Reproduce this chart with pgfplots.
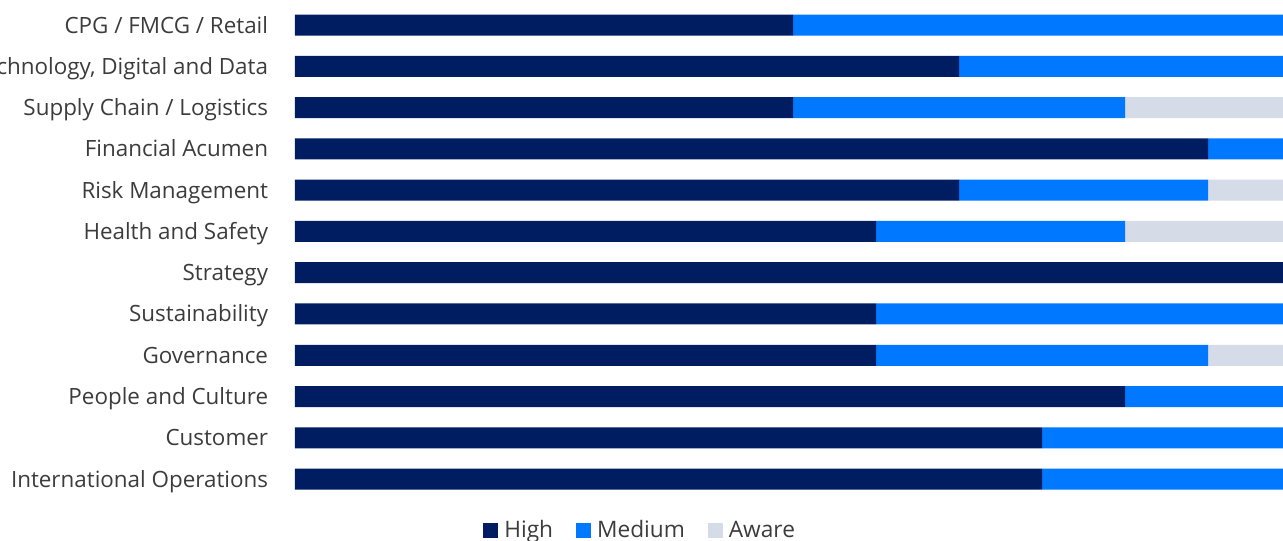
\documentclass[border=0pt]{standalone}
\usepackage{fontspec}
\setmainfont{Open Sans}
\usepackage{pgfplots}
\pgfplotsset{compat=1.18}
\definecolor{high}{HTML}{001D62}
\definecolor{medium}{HTML}{0078FF}
\definecolor{aware}{HTML}{D5DBE7}
\definecolor{txt}{HTML}{3C3C3C}
\begin{document}
\begin{tikzpicture}
\begin{axis}[
  at={(221.25pt,-3.3pt)}, anchor=north west,
  scale only axis, width=747pt, height=371.5pt,
  xbar stacked, bar width=15.75pt,
  xmin=0, xmax=12, ymin=-0.5, ymax=11.5, y dir=reverse,
  axis line style={draw=none}, tick style={draw=none}, major tick length=0pt,
  xtick=\empty,
  ytick={0,...,11},
  yticklabels={CPG / FMCG / Retail, {Technology, Digital and Data}, Supply Chain / Logistics, Financial Acumen, Risk Management, Health and Safety, Strategy, Sustainability, Governance, People and Culture, Customer, International Operations},
  yticklabel style={anchor=east, inner sep=0pt, xshift=-20pt, text height=12pt, text depth=0pt, font=\fontsize{16.8}{20}\selectfont, text=txt},
  legend columns=-1,
  legend style={draw=none, fill=none, inner sep=0pt, at={(axis description cs:0.1888,-0.0612)}, anchor=west,
    font=\fontsize{17}{20}\selectfont, text=txt,
    nodes={inner sep=0pt},
    /tikz/every odd column/.style={column sep=4.5pt},
    /tikz/every even column/.style={column sep=17.25pt}},
  legend image code/.code={\fill[#1] (0pt,-5.6pt) rectangle (11.25pt,5.6pt);},
]
\addplot[fill=high, draw=none] coordinates {(6,0) (8,1) (6,2) (11,3) (8,4) (7,5) (12,6) (7,7) (7,8) (10,9) (9,10) (9,11)};
\addplot[fill=medium, draw=none] coordinates {(6,0) (4,1) (4,2) (1,3) (3,4) (3,5) (0,6) (5,7) (4,8) (2,9) (3,10) (3,11)};
\addplot[fill=aware, draw=none] coordinates {(0,0) (0,1) (2,2) (0,3) (1,4) (2,5) (0,6) (0,7) (1,8) (0,9) (0,10) (0,11)};
\legend{High, Medium, Aware}
\end{axis}
\pgfresetboundingbox
\useasboundingbox (0pt,0pt) rectangle (962.25pt,-405pt);
\end{tikzpicture}
\end{document}
